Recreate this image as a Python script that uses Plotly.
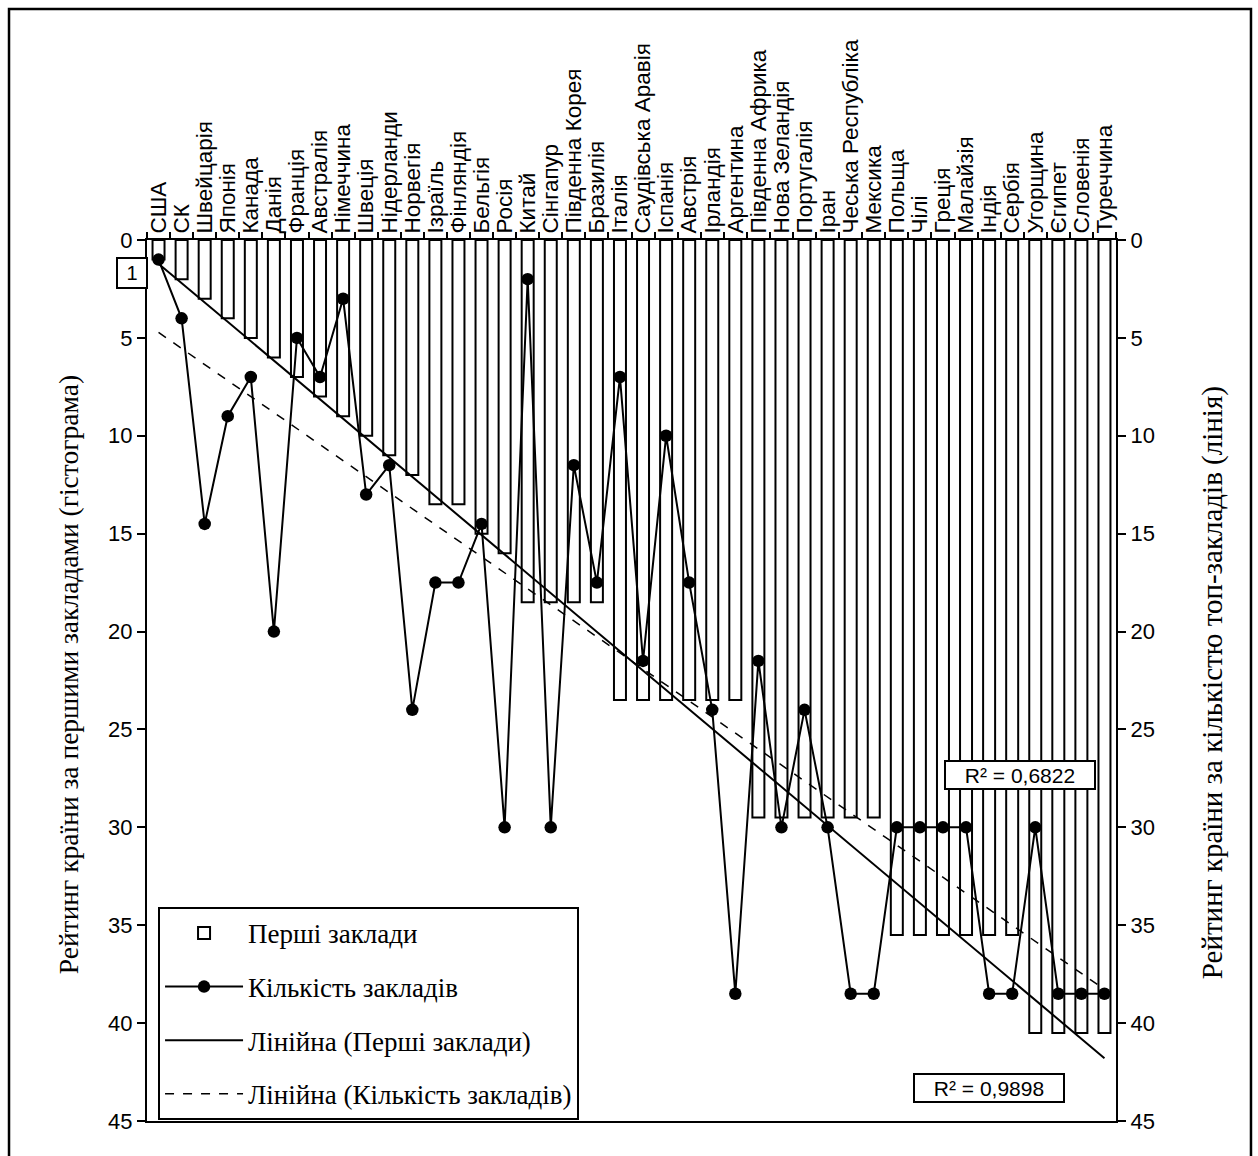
import numpy as np
import plotly.graph_objects as go

countries = ["США", "СК", "Швейцарія", "Японія", "Канада", "Данія", "Франція", "Австралія",
             "Німеччина", "Швеція", "Нідерланди", "Норвегія", "Ізраїль", "Фінляндія", "Бельгія",
             "Росія", "Китай", "Сінгапур", "Південна Корея", "Бразилія", "Італія",
             "Саудівська Аравія", "Іспанія", "Австрія", "Ірландія", "Аргентина",
             "Південна Африка", "Нова Зеландія", "Португалія", "Іран", "Чеська Республіка",
             "Мексика", "Польща", "Чілі", "Греція", "Малайзія", "Індія", "Сербія", "Угорщина",
             "Єгипет", "Словенія", "Туреччина"]

first_institutions = [1, 2, 3, 4, 5, 6, 7, 8, 9, 10, 11, 12, 13.5, 13.5, 15, 16,
                      18.5, 18.5, 18.5, 18.5, 23.5, 23.5, 23.5, 23.5, 23.5, 23.5,
                      29.5, 29.5, 29.5, 29.5, 29.5, 29.5, 35.5, 35.5, 35.5, 35.5, 35.5, 35.5,
                      40.5, 40.5, 40.5, 40.5]

count_institutions = [1, 4, 14.5, 9, 7, 20, 5, 7, 3, 13, 11.5, 24, 17.5, 17.5, 14.5, 30,
                      2, 30, 11.5, 17.5, 7, 21.5, 10, 17.5, 24, 38.5, 21.5, 30, 24, 30,
                      38.5, 38.5, 30, 30, 30, 30, 38.5, 38.5, 30, 38.5, 38.5, 38.5]

r2_bars = "R² = 0,9898"
r2_line = "R² = 0,6822"

y_ticks = [0, 5, 10, 15, 20, 25, 30, 35, 40, 45]

idx = np.arange(1, len(countries) + 1)
pb = np.polyfit(idx, first_institutions, 1)
pl = np.polyfit(idx, count_institutions, 1)
trend_x = [countries[0], countries[-1]]
trend_b = [pb[0] * idx[0] + pb[1], pb[0] * idx[-1] + pb[1]]
trend_l = [pl[0] * idx[0] + pl[1], pl[0] * idx[-1] + pl[1]]

fig = go.Figure()
fig.add_trace(go.Bar(x=countries, y=first_institutions, name="Перші заклади",
                     marker=dict(color="white", line=dict(color="black", width=2)),
                     legendgroup="a", yaxis="y"))
fig.add_trace(go.Scatter(x=countries, y=count_institutions, name="Кількість закладів",
                         mode="lines+markers", line=dict(color="black", width=2),
                         marker=dict(color="black", size=12.5), legendgroup="b", yaxis="y2"))
fig.add_trace(go.Scatter(x=trend_x, y=trend_b, name="Лінійна (Перші заклади)", mode="lines",
                         line=dict(color="black", width=2), legendgroup="c", yaxis="y"))
fig.add_trace(go.Scatter(x=trend_x, y=trend_l, name="Лінійна (Кількість закладів)", mode="lines",
                         line=dict(color="black", width=1.5, dash="dash"), legendgroup="d", yaxis="y2"))

tickfont = dict(family="Liberation Sans, Arial", size=22, color="black")
yrange = [45, 0]
common_y = dict(range=yrange, tickvals=y_ticks, showgrid=False, zeroline=False, tickwidth=2,
                tickcolor="black", ticklen=8)

fig.update_layout(
    width=1258, height=1156,
    margin=dict(l=147, r=142, t=240, b=35),
    paper_bgcolor="white", plot_bgcolor="white",
    bargap=0.48,
    font=dict(family="Liberation Sans, Arial", color="black"),
    xaxis=dict(type="category", categoryorder="array", categoryarray=countries,
               range=[-0.5, len(countries) - 0.5], side="top", anchor="y",
               tickmode="linear", tick0=0, dtick=1,
               showline=True, linecolor="black", linewidth=2, mirror=True,
               ticks="outside", ticklen=6, tickwidth=2, tickcolor="black",
               tickson="boundaries", tickangle=-90,
               tickfont=dict(family="Liberation Sans, Arial", size=22.5, color="black"),
               showgrid=False, zeroline=False),
    xaxis3=dict(type="category", categoryorder="array", categoryarray=countries,
                range=[-0.5, len(countries) - 0.5], side="top", overlaying="x", anchor="y",
                tickmode="linear", tick0=0, dtick=1,
                ticks="inside", ticklen=6, tickwidth=2, tickcolor="black", tickson="boundaries",
                showticklabels=False, showline=False, showgrid=False, zeroline=False),
    yaxis=dict(side="left", showline=True, linecolor="black", linewidth=2, ticks="outside",
               tickfont=tickfont, **common_y),
    yaxis2=dict(side="right", overlaying="y", showline=True, linecolor="black", linewidth=2,
                ticks="outside", tickfont=tickfont, **common_y),
    yaxis3=dict(side="left", overlaying="y", showline=False, ticks="inside",
                showticklabels=False, **common_y),
    yaxis4=dict(side="right", overlaying="y", showline=False, ticks="inside",
                showticklabels=False, **common_y),
    showlegend=True,
    legend=dict(x=0.0114, y=0.243, xanchor="left", yanchor="top",
                bgcolor="white", bordercolor="black", borderwidth=2,
                font=dict(family="Liberation Serif, Times New Roman", size=27, color="black"),
                tracegroupgap=15.5, itemwidth=78, traceorder="grouped"),
)

# Axis titles
fig.add_annotation(text="Рейтинг країни за першими закладами (гістограма)", xref="paper", yref="paper",
                   x=-0.0815, y=0.506, xanchor="center", yanchor="middle", textangle=-90, showarrow=False,
                   font=dict(family="Liberation Serif, Times New Roman", size=27.5, color="black"))
fig.add_annotation(text="Рейтинг країни за кількістю топ-закладів (лінія)", xref="paper", yref="paper",
                   x=1.099, y=0.498, xanchor="center", yanchor="middle", textangle=-90, showarrow=False,
                   font=dict(family="Liberation Serif, Times New Roman", size=29, color="black"))

# Data label and R² boxes
fig.add_annotation(text="1", xref="paper", yref="y", x=-0.015, y=1.66, showarrow=False,
                   xanchor="center", yanchor="middle",
                   bordercolor="black", borderwidth=2, bgcolor="white", width=26, height=26,
                   font=dict(family="Liberation Sans, Arial", size=20, color="black"))
fig.add_annotation(text=r2_line, xref="paper", yref="y", x=0.901, y=27.32, showarrow=False,
                   xanchor="center", yanchor="middle",
                   bordercolor="black", borderwidth=2, bgcolor="white", width=146, height=24,
                   font=dict(family="Liberation Sans, Arial", size=21, color="black"))
fig.add_annotation(text=r2_bars, xref="paper", yref="y", x=0.869, y=43.3, showarrow=False,
                   xanchor="center", yanchor="middle",
                   bordercolor="black", borderwidth=2, bgcolor="white", width=146, height=24,
                   font=dict(family="Liberation Sans, Arial", size=21, color="black"))

# Outer frame (bottom edge lies below the visible page)
fig.add_shape(type="rect", xref="paper", yref="paper", x0=-0.1424, x1=1.1393, y0=-0.12, y1=1.2622,
              line=dict(color="black", width=2.5), layer="below")

fig.write_html("out.html")
